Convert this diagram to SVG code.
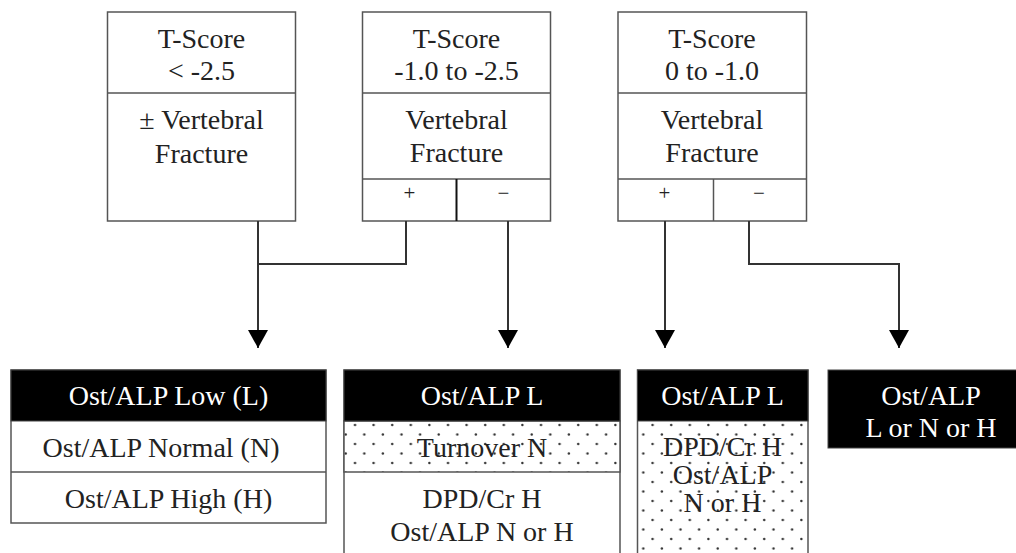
<svg xmlns="http://www.w3.org/2000/svg" width="1016" height="553" viewBox="0 0 1016 553">
<defs>
<style>
.box{fill:#fff;stroke:#555;stroke-width:1.5}
.div{stroke:#555;stroke-width:1.5;fill:none}
.hdr{fill:#000;stroke:#444;stroke-width:1}
.t{font-family:'Liberation Serif','Times New Roman','DejaVu Serif',serif;font-size:28px;fill:#222;text-anchor:middle}
.w{fill:#fff}
.s{font-size:21px}
.c{stroke:#333;stroke-width:2;fill:none}
</style>
<pattern id="dots" width="18.6" height="19" patternUnits="userSpaceOnUse" x="340" y="421">
<rect width="18.6" height="19" fill="#fff"/>
<circle cx="15" cy="4" r="1.2" fill="#333"/>
<circle cx="5.7" cy="13.5" r="1.2" fill="#333"/>
</pattern>
<marker id="ah" markerWidth="18" markerHeight="20" refX="18" refY="10" orient="auto" markerUnits="userSpaceOnUse" viewBox="0 0 18 20">
<path d="M0,0 L18,10 L0,20 Z" fill="#000"/>
</marker>
</defs>

<g id="n1">
<rect class="box" x="107.5" y="12" width="188" height="209"/>
<line class="div" x1="107.5" y1="93" x2="295.5" y2="93"/>
<text class="t" x="201.5" y="48">T-Score</text>
<text class="t" x="201.5" y="80">&lt; -2.5</text>
<text class="t" x="201.5" y="129">± Vertebral</text>
<text class="t" x="201.5" y="163">Fracture</text>
</g>

<g id="n2">
<rect class="box" x="362.5" y="12" width="188" height="209"/>
<line class="div" x1="362.5" y1="93" x2="550.5" y2="93"/>
<line class="div" x1="362.5" y1="179" x2="550.5" y2="179"/>
<line x1="456.5" y1="179" x2="456.5" y2="221" stroke="#111" stroke-width="2"/>
<text class="t" x="456.5" y="48">T-Score</text>
<text class="t" x="456.5" y="80">-1.0 to -2.5</text>
<text class="t" x="456.5" y="129">Vertebral</text>
<text class="t" x="456.5" y="162">Fracture</text>
<text class="t s" x="409.5" y="200">+</text>
<text class="t s" x="503.5" y="200">−</text>
</g>

<g id="n3">
<rect class="box" x="618" y="12" width="188.5" height="209"/>
<line class="div" x1="618" y1="93" x2="806.5" y2="93"/>
<line class="div" x1="618" y1="179" x2="806.5" y2="179"/>
<line class="div" x1="713.5" y1="179" x2="713.5" y2="221"/>
<text class="t" x="712" y="48">T-Score</text>
<text class="t" x="712" y="80">0 to -1.0</text>
<text class="t" x="712" y="129">Vertebral</text>
<text class="t" x="712" y="162">Fracture</text>
<text class="t s" x="664.5" y="200">+</text>
<text class="t s" x="759" y="200">−</text>
</g>

<g id="connectors">
<path class="c" d="M258,221 V348" marker-end="url(#ah)"/>
<path class="c" d="M406,221 V264 H258"/>
<path class="c" d="M508,221 V348" marker-end="url(#ah)"/>
<path class="c" d="M665,221 V348" marker-end="url(#ah)"/>
<path class="c" d="M749,221 V264 H899 V348" marker-end="url(#ah)"/>
</g>

<g id="r1">
<rect class="box" x="11" y="370" width="315" height="153"/>
<rect class="hdr" x="11" y="370" width="315" height="51"/>
<line class="div" x1="11" y1="472" x2="326" y2="472"/>
<text class="t w" x="168.5" y="405">Ost/ALP Low (L)</text>
<text class="t" x="161" y="457">Ost/ALP Normal (N)</text>
<text class="t" x="168.5" y="508">Ost/ALP High (H)</text>
</g>

<g id="r2">
<rect class="box" x="344" y="370" width="276" height="200"/>
<rect x="344" y="421" width="276" height="51" fill="url(#dots)" stroke="#555" stroke-width="1.5"/>
<rect class="hdr" x="344" y="370" width="276" height="51"/>
<text class="t w" x="482" y="405">Ost/ALP L</text>
<text class="t" x="482" y="457">Turnover N</text>
<text class="t" x="482" y="508">DPD/Cr H</text>
<text class="t" x="482" y="541">Ost/ALP N or H</text>
</g>

<g id="r3">
<rect x="637.5" y="370" width="170.5" height="200" fill="url(#dots)" stroke="#555" stroke-width="1.5"/>
<rect class="hdr" x="637.5" y="370" width="170.5" height="51"/>
<text class="t w" x="722.5" y="405">Ost/ALP L</text>
<text class="t" x="722.5" y="456">DPD/Cr H</text>
<text class="t" x="722.5" y="484">Ost/ALP</text>
<text class="t" x="722.5" y="512">N or H</text>
</g>

<g id="r4">
<rect class="hdr" x="828" y="370" width="200" height="78"/>
<text class="t w" x="931" y="405">Ost/ALP</text>
<text class="t w" x="931" y="437">L or N or H</text>
</g>
</svg>
